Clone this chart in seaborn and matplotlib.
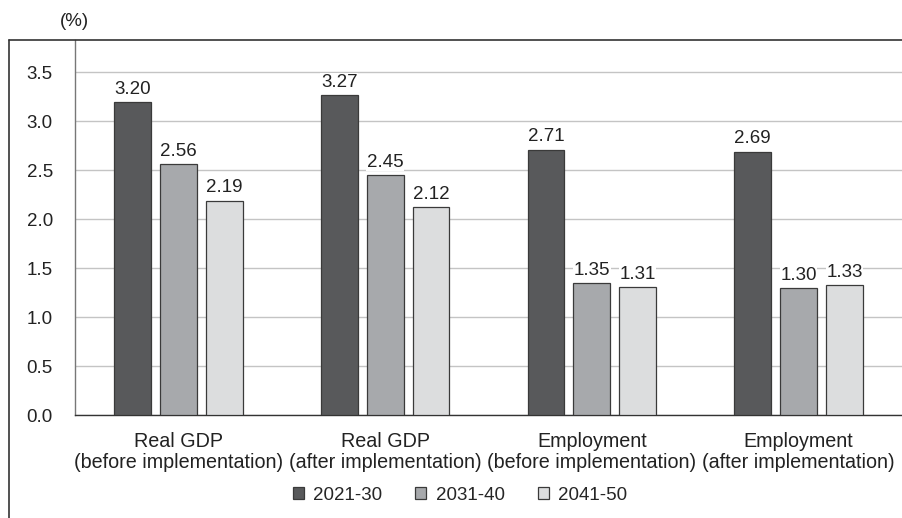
import matplotlib
matplotlib.use("Agg")
import matplotlib.pyplot as plt
from matplotlib.lines import Line2D
import seaborn as sns
import pandas as pd

categories = [
    "Real GDP\n(before implementation)",
    "Real GDP\n(after implementation)",
    "Employment\n(before implementation)",
    "Employment\n(after implementation)",
]
periods = ["2021-30", "2031-40", "2041-50"]
growth_2021_30 = [3.20, 3.27, 2.71, 2.69]
growth_2031_40 = [2.56, 2.45, 1.35, 1.30]
growth_2041_50 = [2.19, 2.12, 1.31, 1.33]
y_ticks = [0.0, 0.5, 1.0, 1.5, 2.0, 2.5, 3.0, 3.5]

series = [growth_2021_30, growth_2031_40, growth_2041_50]
df = pd.DataFrame({
    "category": [c for _ in periods for c in categories],
    "period": [p for p in periods for _ in categories],
    "value": [v for s in series for v in s],
})

sns.set_theme(style="white")
plt.rcParams["font.family"] = ["Liberation Sans", "DejaVu Sans"]

FS = 13.5
palette = ["#58595b", "#a7a9ac", "#dcddde"]

fig = plt.figure(figsize=(9.02, 5.18), dpi=100)
ax = fig.add_axes([75 / 902, 1 - 415 / 518, 1 - 75 / 902, (415 - 40) / 518])

sns.barplot(data=df, x="category", y="value", hue="period", order=categories,
            hue_order=periods, palette=palette, width=0.667, gap=0.2,
            edgecolor="#3a3a3a", linewidth=0.9, saturation=1, ax=ax,
            legend=True, zorder=3)

ax.set_xlim(-0.5, 3.5)
ax.set_ylim(0, 3.83)
ax.set_yticks(y_ticks)
ax.set_yticklabels([f"{t:.1f}" for t in y_ticks], fontsize=FS, color="#222222")
ax.tick_params(axis="y", length=0, pad=16)
ax.tick_params(axis="x", length=0, pad=12.5, labelsize=14.2, labelcolor="#222222")
for lbl in ax.get_xticklabels():
    lbl.set_linespacing(1.08)
ax.set_xlabel("")
ax.set_ylabel("")
ax.yaxis.grid(True, color="#c4c4c4", linewidth=1.0, zorder=0)
ax.set_axisbelow(True)

for side in ["top", "right"]:
    ax.spines[side].set_visible(False)
ax.spines["left"].set_color("#777777")
ax.spines["left"].set_linewidth(1.0)
ax.spines["bottom"].set_color("#333333")
ax.spines["bottom"].set_linewidth(1.0)

for cont in ax.containers:
    labels = [f"{b.get_height():.2f}" for b in cont]
    ax.bar_label(cont, labels=labels, padding=3, fontsize=FS, color="#222222",
                 bbox=dict(facecolor="white", edgecolor="none", pad=0.3),
                 zorder=4)

handles, labs = ax.get_legend_handles_labels()
ax.get_legend().remove()
fig.legend(handles, labs, loc="center", bbox_to_anchor=(0.51, 0.044), ncol=3,
           frameon=False, fontsize=FS, handlelength=0.6, handleheight=0.6,
           handletextpad=0.5, columnspacing=1.75)

# outer frame: top rule and left rule
fig.add_artist(Line2D([9 / 902, 1.0], [1 - 40 / 518, 1 - 40 / 518],
                      transform=fig.transFigure, color="#333333", linewidth=1.2))
fig.add_artist(Line2D([9 / 902, 9 / 902], [0.0, 1 - 40 / 518],
                      transform=fig.transFigure, color="#333333", linewidth=1.2))

fig.text(74 / 902, 1 - 22 / 518, "(%)", ha="center", va="center",
         fontsize=FS, color="#222222")

fig.savefig("out.png", dpi=100)
